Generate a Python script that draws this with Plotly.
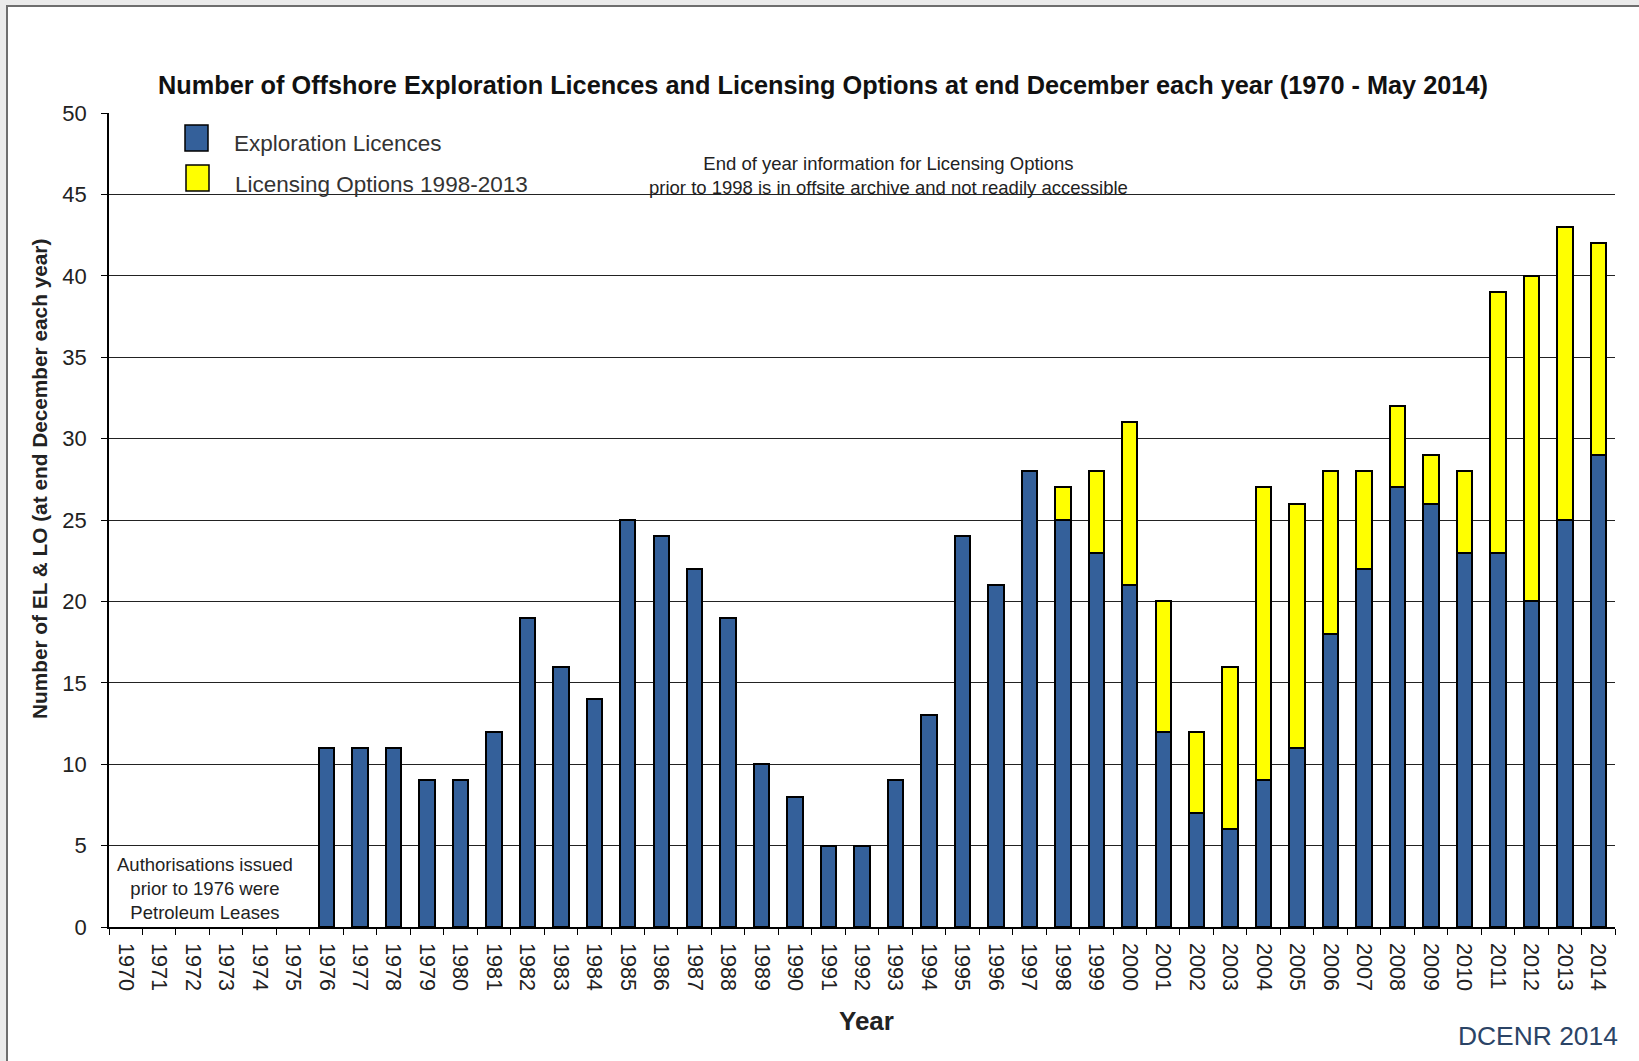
import plotly.graph_objects as go

years = [str(y) for y in range(1970, 2015)]
exploration_licences = [None, None, None, None, None, None,
                        11, 11, 11, 9, 9, 12, 19, 16, 14, 25, 24, 22, 19, 10,
                        8, 5, 5, 9, 13, 24, 21, 28, 25, 23, 21, 12, 7, 6, 9,
                        11, 18, 22, 27, 26, 23, 23, 20, 25, 29]
licensing_options = [None] * 28 + [2, 5, 10, 8, 5, 10, 18, 15, 10, 6, 5, 3, 5, 16, 20, 18, 13]

y_ticks = [0, 5, 10, 15, 20, 25, 30, 35, 40, 45, 50]

FONT = "Liberation Sans, Arial, sans-serif"
BLUE = "#34609A"
YELLOW = "#FFFF00"

# plot area in pixels
L, R, T, B = 109, 1615, 113, 927
W, H = R - L, B - T


def px(x):
    return (x - L) / W


def py(y):
    return (B - y) / H


fig = go.Figure()
fig.add_trace(go.Bar(x=years, y=exploration_licences, name="Exploration Licences",
                     marker=dict(color=BLUE, line=dict(color="black", width=2)),
                     width=0.46))
fig.add_trace(go.Bar(x=years, y=licensing_options, name="Licensing Options 1998-2013",
                     marker=dict(color=YELLOW, line=dict(color="black", width=2)),
                     width=0.46))

shapes = [
    # page frame
    dict(type="rect", xref="paper", yref="paper", x0=px(7), x1=px(1700), y0=py(6), y1=py(1100),
         fillcolor="white", line=dict(color="#6e6e6e", width=2), layer="below"),
    # legend swatches
    dict(type="rect", xref="paper", yref="paper", x0=px(185), x1=px(208), y0=py(125), y1=py(151),
         fillcolor=BLUE, line=dict(color="black", width=1.5)),
    dict(type="rect", xref="paper", yref="paper", x0=px(186), x1=px(209), y0=py(165), y1=py(191),
         fillcolor=YELLOW, line=dict(color="black", width=1.5)),
]

annotations = [
    dict(text="<b>Number of Offshore Exploration Licences and Licensing Options at end December each year (1970 - May 2014)</b>",
         x=px(823), y=py(85), xref="paper", yref="paper", showarrow=False,
         font=dict(size=25.3, color="#111", family=FONT), xanchor="center", yanchor="middle"),
    dict(text="Exploration Licences", x=px(232), y=py(143), xref="paper", yref="paper", showarrow=False,
         font=dict(size=22.5, color="#333", family=FONT), xanchor="left", yanchor="middle"),
    dict(text="Licensing Options 1998-2013", x=px(233), y=py(184), xref="paper", yref="paper", showarrow=False,
         font=dict(size=22.5, color="#333", family=FONT), xanchor="left", yanchor="middle"),
    dict(text="End of year information for Licensing Options<br>prior to 1998 is in offsite archive and not readily accessible",
         x=px(888), y=py(175), xref="paper", yref="paper", showarrow=False, align="center",
         font=dict(size=18.5, color="#222", family=FONT), xanchor="center", yanchor="middle"),
    dict(text="Authorisations issued<br>prior to 1976 were<br>Petroleum Leases",
         x=px(205), y=py(888), xref="paper", yref="paper", showarrow=False, align="center",
         font=dict(size=18.5, color="#222", family=FONT), xanchor="center", yanchor="middle"),
    dict(text="<b>Number of EL &amp; LO (at end December each year)</b>", textangle=-90,
         x=px(39), y=py(479), xref="paper", yref="paper", showarrow=False,
         font=dict(size=20.8, color="#222", family=FONT), xanchor="center", yanchor="middle"),
    dict(text="<b>Year</b>", x=px(866), y=py(1021), xref="paper", yref="paper", showarrow=False,
         font=dict(size=26, color="#222", family=FONT), xanchor="center", yanchor="middle"),
    dict(text="DCENR 2014", x=px(1620), y=py(1036), xref="paper", yref="paper", showarrow=False,
         font=dict(size=26.4, color="#2B4466", family=FONT), xanchor="right", yanchor="middle"),
]

fig.update_layout(
    width=1639, height=1061,
    margin=dict(l=L, r=1639 - R, t=T, b=1061 - B),
    paper_bgcolor="#ebebeb", plot_bgcolor="white",
    barmode="stack", bargap=0.54, showlegend=False,
    font=dict(family=FONT, color="#222"),
    shapes=shapes, annotations=annotations,
    xaxis=dict(type="category", categoryorder="array", categoryarray=years,
               tickangle=90, tickfont=dict(size=21.5, color="#222"),
               showline=True, linecolor="black", linewidth=1.5,
               ticks="outside", tickson="boundaries", ticklen=6, tickcolor="black",
               ticklabelstandoff=10, showgrid=False),
    yaxis=dict(range=[0, 50], tickvals=y_ticks, tickfont=dict(size=22, color="#222"),
               showline=True, linecolor="black", linewidth=1.5,
               ticks="outside", ticklen=6, tickcolor="black", ticklabelstandoff=10,
               showgrid=True, gridcolor="#222", gridwidth=1.2, zeroline=False),
)

fig.write_html("out.html")
